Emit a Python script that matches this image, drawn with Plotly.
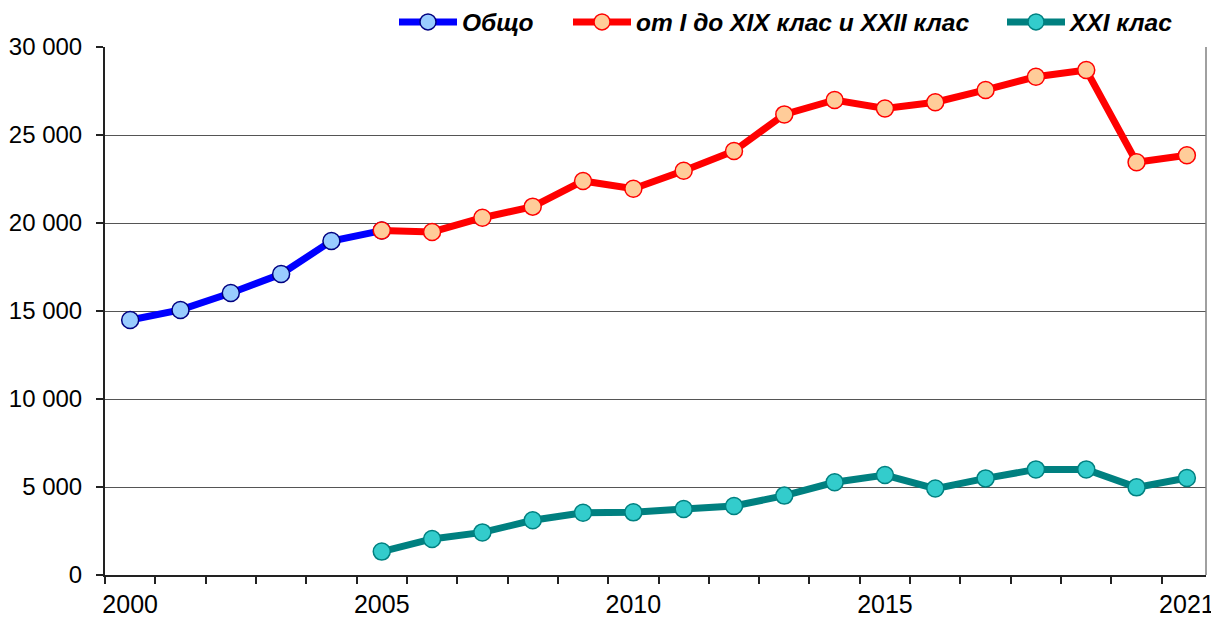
import plotly.graph_objects as go

# years and series
years_total = [2000, 2001, 2002, 2003, 2004, 2005]
total = [14490, 15060, 16020, 17100, 18980, 19570]

years_split = list(range(2005, 2022))
classes_main = [19570, 19490, 20300, 20930, 22390, 21950, 22970, 24090, 26170,
                26990, 26510, 26860, 27560, 28310, 28690, 23450, 23850]
class_21 = [1330, 2050, 2420, 3110, 3540, 3560, 3750, 3920, 4510,
            5270, 5680, 4910, 5490, 6000, 6000, 4980, 5510]

x_labels = [2000, 2005, 2010, 2015, 2021]
names = ["Общо", "от I до XIX клас и XXII клас", "XXI клас"]

fig = go.Figure()

fig.add_trace(go.Scatter(
    x=years_total, y=total, name=names[0], mode="lines+markers",
    line=dict(color="#0000FF", width=7),
    marker=dict(size=17, color="#99CCFF", line=dict(color="#000080", width=1.5)),
    legend="legend",
))
fig.add_trace(go.Scatter(
    x=years_split, y=classes_main, name=names[1], mode="lines+markers",
    line=dict(color="#FF0000", width=7),
    marker=dict(size=17, color="#FFCC99", line=dict(color="#FF0000", width=1.5)),
    legend="legend2",
))
fig.add_trace(go.Scatter(
    x=years_split, y=class_21, name=names[2], mode="lines+markers",
    line=dict(color="#008080", width=7),
    marker=dict(size=17, color="#33CCCC", line=dict(color="#008080", width=1.5)),
    legend="legend3",
))

# plot area on the page: x 105..1206, y 47..575
def px_x(p):
    return (p - 105) / 1101

legend_font = dict(family="Liberation Sans, Arial", size=24.5, color="black",
                   weight="bold", style="italic")
legend_common = dict(orientation="h", xref="paper", yref="paper",
                     yanchor="middle", y=(575 - 22) / 528, xanchor="left",
                     itemwidth=58, font=legend_font, bgcolor="rgba(0,0,0,0)")

fig.update_layout(
    width=1211, height=618,
    margin=dict(l=105, r=5, t=47, b=43, autoexpand=False),
    plot_bgcolor="white", paper_bgcolor="white",
    separators=". ",
    showlegend=True,
    legend=dict(x=px_x(394), **legend_common),
    legend2=dict(x=px_x(568), **legend_common),
    legend3=dict(x=px_x(1002), **legend_common),
    xaxis=dict(
        range=[1999.5, 2021.38], automargin=False,
        tickvals=x_labels, ticktext=[str(v) for v in x_labels],
        ticks="", showgrid=False, zeroline=False,
        showline=True, linecolor="#222222", linewidth=2,
        ticklabelstandoff=6, ticklabeloverflow="allow",
        tickfont=dict(family="Liberation Sans Narrow, Arial Narrow, Liberation Sans", size=25, color="black"),
        minor=dict(ticks="outside", ticklen=7, tickcolor="#222222", tickwidth=1.5,
                   tick0=1999.5, dtick=1, showgrid=False),
    ),
    yaxis=dict(
        range=[0, 30000], dtick=5000, tickformat=",d", automargin=False,
        ticks="outside", ticklen=7, tickcolor="#222222", tickwidth=1.5,
        showline=True, linecolor="#222222", linewidth=2,
        showgrid=True, gridcolor="#555555", gridwidth=1,
        zeroline=False, ticklabelstandoff=9,
        tickfont=dict(family="Liberation Sans, Arial", size=24, color="black"),
    ),
    shapes=[dict(type="line", xref="paper", yref="paper", x0=1, x1=1, y0=0, y1=1,
                 line=dict(color="#808080", width=1.5))],
)

# drop the browser's default 8px body margin so the figure fills the window
fig.write_html("out.html", config={"displayModeBar": False},
               post_script="document.body.style.margin = '0';")
